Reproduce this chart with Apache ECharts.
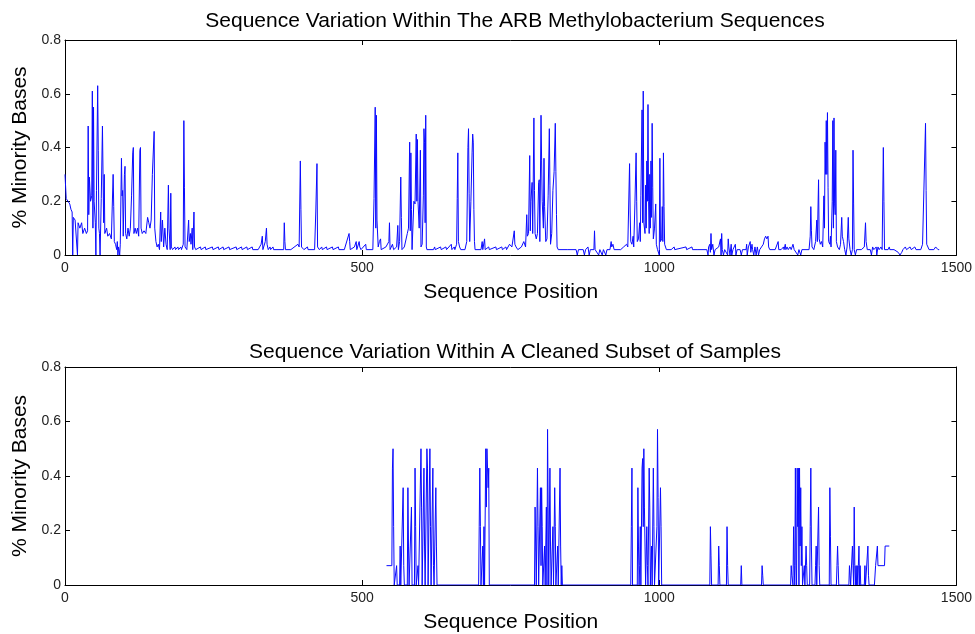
<!DOCTYPE html>
<html>
<head>
<meta charset="utf-8">
<script src="https://cdn.jsdelivr.net/npm/echarts@6/dist/echarts.min.js"></script>
<style>
html,body{margin:0;padding:0;background:#fff;}
#chart{width:975px;height:634px;}
</style>
</head>
<body>
<div id="chart"></div>
<script>
// ---- Data ----
var titles = ["Sequence Variation Within The ARB Methylobacterium Sequences", "Sequence Variation Within A Cleaned Subset of Samples"];
var xTicks = [0, 500, 1000, 1500];
var yTicks = [0, 0.2, 0.4, 0.6, 0.8];

var topPos = [0,2,5,8,10,12,13,14,17,20,21,22,25,28,30,33,36,38,39,40,41,43,45,46,47,48,49,51,52,53,55,56,57,58,59,61,63,64,65,66,67,70,72,75,78,80,81,82,83,85,87,88,89,90,92,93,95,96,97,98,100,101,102,104,106,108,110,112,114,115,116,118,120,122,124,126,127,128,130,133,136,139,141,143,145,147,150,151,153,155,157,159,161,162,164,166,168,170,172,174,175,177,178,179,181,185,186,190,191,195,196,199,200,201,202,205,208,209,211,212,214,215,217,218,220,228,229,236,237,248,249,258,259,266,267,276,277,288,289,297,298,306,307,315,316,325,330,332,333,337,339,340,342,345,346,350,351,368,369,370,371,380,392,394,396,397,398,401,402,408,409,420,422,424,425,428,432,433,440,441,450,451,460,461,470,478,479,480,487,490,491,495,496,498,506,507,518,520,522,523,524,525,527,529,531,532,540,545,546,547,551,553,558,560,561,563,565,566,567,571,576,578,580,581,582,583,584,587,589,591,592,593,594,596,598,599,601,603,604,605,606,607,608,609,620,622,623,632,633,641,642,650,651,655,656,659,660,661,662,664,666,673,676,678,679,680,681,683,685,686,687,688,689,690,700,702,703,706,707,713,714,725,726,735,736,742,743,748,752,756,757,759,762,768,772,775,777,778,780,782,783,784,786,787,789,790,791,793,795,797,798,799,801,802,803,805,806,807,809,811,813,815,816,817,819,821,823,825,826,827,828,830,845,860,862,864,872,874,876,880,882,884,890,891,892,898,900,904,906,910,912,917,919,920,922,924,935,940,945,947,950,951,952,954,956,957,959,961,962,963,965,967,968,969,971,972,973,974,976,977,978,979,980,981,982,983,984,985,986,987,988,989,990,992,994,995,997,1000,1001,1002,1004,1005,1006,1007,1008,1009,1011,1012,1020,1025,1026,1045,1046,1055,1056,1065,1080,1082,1083,1085,1086,1087,1088,1090,1092,1094,1100,1103,1104,1105,1106,1108,1110,1115,1116,1117,1119,1121,1122,1124,1128,1129,1131,1136,1138,1140,1146,1147,1148,1150,1153,1154,1156,1157,1159,1161,1163,1165,1167,1169,1172,1175,1177,1179,1181,1183,1184,1186,1195,1200,1201,1205,1209,1210,1212,1213,1215,1217,1220,1222,1225,1227,1230,1233,1235,1238,1240,1252,1254,1255,1256,1257,1260,1263,1265,1266,1268,1269,1271,1273,1275,1277,1278,1279,1280,1281,1282,1283,1284,1285,1287,1288,1289,1291,1292,1293,1294,1295,1296,1297,1298,1300,1303,1305,1307,1308,1310,1312,1314,1316,1318,1319,1321,1323,1325,1326,1327,1328,1330,1332,1340,1345,1347,1348,1350,1355,1357,1359,1361,1365,1366,1368,1370,1373,1375,1377,1378,1379,1385,1387,1388,1395,1402,1405,1408,1410,1414,1416,1422,1424,1430,1432,1440,1443,1446,1448,1449,1450,1452,1454,1462,1465,1467,1469,1471];
var topVal = [0.30,0.21,0.20,0.19,0.17,0.16,0.0,0.14,0.13,0.13,0.0,0.12,0.10,0.12,0.08,0.10,0.08,0.09,0.48,0.15,0.29,0.20,0.22,0.61,0.10,0.55,0.20,0.12,0.0,0.24,0.63,0.39,0.10,0.08,0.0,0.21,0.48,0.30,0.12,0.30,0.08,0.10,0.07,0.08,0.06,0.06,0.30,0.18,0.05,0.04,0.02,0.05,0.0,0.03,0.0,0.04,0.36,0.22,0.24,0.07,0.30,0.33,0.08,0.06,0.10,0.07,0.10,0.22,0.38,0.40,0.08,0.10,0.08,0.10,0.07,0.39,0.40,0.10,0.08,0.09,0.08,0.14,0.12,0.10,0.13,0.30,0.46,0.10,0.05,0.03,0.04,0.02,0.16,0.05,0.13,0.03,0.10,0.04,0.02,0.26,0.10,0.02,0.23,0.03,0.02,0.03,0.02,0.03,0.02,0.03,0.02,0.04,0.50,0.25,0.03,0.02,0.13,0.05,0.08,0.04,0.10,0.02,0.16,0.03,0.02,0.03,0.02,0.03,0.02,0.03,0.02,0.03,0.02,0.03,0.02,0.03,0.02,0.03,0.02,0.03,0.02,0.03,0.02,0.03,0.02,0.02,0.04,0.07,0.02,0.05,0.10,0.04,0.02,0.03,0.02,0.03,0.02,0.02,0.12,0.05,0.02,0.02,0.04,0.03,0.35,0.17,0.03,0.03,0.02,0.03,0.02,0.02,0.16,0.34,0.03,0.02,0.03,0.02,0.03,0.02,0.03,0.02,0.03,0.02,0.02,0.08,0.05,0.02,0.03,0.05,0.02,0.05,0.03,0.02,0.04,0.02,0.02,0.21,0.55,0.10,0.52,0.13,0.03,0.05,0.06,0.02,0.03,0.05,0.12,0.02,0.04,0.02,0.03,0.11,0.02,0.05,0.29,0.14,0.02,0.03,0.08,0.10,0.42,0.09,0.38,0.17,0.02,0.20,0.19,0.45,0.20,0.43,0.20,0.10,0.39,0.03,0.04,0.22,0.47,0.42,0.12,0.52,0.03,0.02,0.02,0.03,0.02,0.03,0.02,0.03,0.02,0.04,0.02,0.03,0.02,0.04,0.21,0.38,0.05,0.03,0.02,0.02,0.05,0.40,0.47,0.23,0.05,0.20,0.38,0.45,0.42,0.17,0.05,0.02,0.02,0.05,0.02,0.06,0.02,0.03,0.02,0.03,0.02,0.03,0.02,0.03,0.02,0.04,0.03,0.09,0.04,0.03,0.02,0.03,0.05,0.03,0.15,0.07,0.08,0.37,0.09,0.20,0.27,0.08,0.51,0.24,0.08,0.06,0.08,0.27,0.28,0.05,0.52,0.35,0.20,0.10,0.36,0.18,0.05,0.06,0.22,0.47,0.26,0.04,0.08,0.24,0.31,0.49,0.31,0.15,0.03,0.02,0.02,0.02,0.0,0.02,0.02,0.0,0.02,0.03,0.0,0.02,0.02,0.09,0.02,0.0,0.02,0.0,0.02,0.0,0.02,0.02,0.05,0.03,0.04,0.02,0.02,0.03,0.04,0.03,0.34,0.16,0.05,0.04,0.07,0.03,0.19,0.38,0.20,0.05,0.06,0.12,0.05,0.22,0.54,0.12,0.61,0.12,0.08,0.26,0.10,0.35,0.20,0.56,0.20,0.08,0.30,0.10,0.35,0.14,0.49,0.25,0.06,0.10,0.19,0.04,0.02,0.0,0.36,0.05,0.06,0.18,0.05,0.38,0.18,0.04,0.04,0.02,0.02,0.03,0.02,0.03,0.02,0.03,0.02,0.02,0.02,0.0,0.03,0.04,0.01,0.08,0.02,0.04,0.0,0.02,0.03,0.06,0.0,0.08,0.02,0.0,0.02,0.0,0.06,0.03,0.0,0.04,0.0,0.02,0.04,0.0,0.02,0.02,0.0,0.02,0.02,0.04,0.0,0.03,0.05,0.01,0.04,0.02,0.0,0.03,0.0,0.03,0.0,0.02,0.03,0.04,0.06,0.07,0.06,0.07,0.03,0.02,0.02,0.05,0.02,0.02,0.03,0.02,0.04,0.02,0.03,0.02,0.03,0.02,0.04,0.02,0.02,0.0,0.02,0.0,0.02,0.02,0.07,0.18,0.09,0.03,0.02,0.05,0.13,0.05,0.28,0.06,0.04,0.05,0.03,0.22,0.10,0.42,0.30,0.50,0.30,0.53,0.25,0.05,0.04,0.07,0.03,0.20,0.50,0.10,0.51,0.19,0.15,0.39,0.05,0.03,0.02,0.04,0.14,0.07,0.05,0.02,0.0,0.03,0.14,0.06,0.02,0.0,0.02,0.39,0.19,0.02,0.0,0.02,0.02,0.03,0.12,0.05,0.02,0.02,0.0,0.03,0.02,0.03,0.0,0.03,0.02,0.03,0.02,0.40,0.20,0.02,0.02,0.03,0.02,0.02,0.01,0.0,0.01,0.02,0.03,0.02,0.03,0.02,0.03,0.02,0.02,0.04,0.04,0.49,0.24,0.04,0.04,0.02,0.02,0.03,0.03,0.02,0.02];

var botPos = [541,550,551,552,553,554,557,558,559,563,564,565,568,569,570,571,576,577,578,579,582,583,584,588,589,590,591,593,594,595,598,599,600,601,603,604,605,606,608,609,610,611,613,614,615,616,618,619,620,621,623,624,625,626,696,697,698,699,700,702,703,704,705,706,707,708,709,710,711,712,713,714,790,791,792,793,794,795,796,797,799,800,801,802,803,804,806,807,808,809,810,811,812,813,814,815,816,817,818,820,821,822,823,824,825,826,828,829,830,832,833,834,835,836,837,952,953,954,955,963,964,965,966,967,968,969,970,971,972,973,974,975,976,977,978,979,980,981,983,984,985,986,987,988,989,990,991,992,995,996,997,998,999,1001,1002,1003,1004,1085,1086,1087,1088,1099,1100,1101,1102,1113,1114,1115,1116,1137,1138,1139,1172,1173,1174,1175,1221,1222,1223,1225,1226,1227,1228,1229,1230,1231,1232,1233,1234,1235,1236,1237,1238,1239,1240,1241,1243,1244,1245,1246,1247,1248,1249,1253,1254,1255,1256,1257,1262,1263,1264,1265,1267,1268,1269,1270,1286,1287,1288,1289,1298,1299,1300,1301,1302,1319,1320,1321,1322,1324,1325,1326,1327,1328,1329,1330,1331,1332,1333,1334,1335,1336,1337,1338,1339,1345,1346,1347,1350,1351,1352,1353,1362,1364,1366,1367,1368,1379,1380,1387];
var botVal = [0.071,0.071,0.429,0.5,0.214,0,0,0.071,0,0,0.143,0,0,0.357,0.071,0,0,0.357,0.143,0,0,0.286,0,0,0.429,0.214,0,0,0.071,0,0,0.5,0.286,0,0,0.429,0.143,0,0,0.5,0.429,0,0,0.5,0.214,0,0,0.429,0.071,0,0,0.357,0.143,0,0,0.214,0.429,0.214,0,0,0.143,0,0.214,0,0,0.5,0.286,0.5,0.429,0.357,0.429,0,0,0.286,0.143,0,0,0.429,0.214,0,0,0.357,0.071,0.357,0.214,0,0,0.143,0,0,0.286,0,0.571,0.286,0,0,0.429,0.143,0,0,0.214,0,0,0.357,0.214,0,0,0.143,0,0,0.429,0.143,0,0.071,0,0,0.214,0.429,0,0,0.357,0.143,0,0.071,0.214,0,0,0.429,0.464,0.214,0.5,0.286,0.143,0,0,0.214,0.071,0,0.429,0.286,0,0,0.143,0,0,0.429,0.214,0,0,0.214,0.571,0.321,0,0,0.357,0.214,0,0,0.214,0.107,0,0,0.143,0.071,0,0,0.214,0.071,0,0,0.071,0,0,0.071,0.036,0,0,0.071,0.036,0,0.214,0.071,0,0.429,0.071,0,0.429,0.214,0.429,0,0.429,0.143,0.357,0.071,0.214,0,0,0.071,0,0,0.143,0.071,0,0,0.214,0.429,0.143,0,0,0.071,0.143,0,0,0.286,0.071,0,0,0.357,0.179,0,0,0.071,0.143,0.071,0,0,0.071,0.036,0,0,0.143,0.071,0,0.286,0.071,0,0.071,0,0.071,0,0.071,0.143,0,0.071,0,0,0.071,0,0,0.143,0.036,0,0,0.071,0.071,0.143,0.071,0.071,0.143,0.143];

// ---- Build ----
function pairs(xs, ys){ var out=[]; for(var i=0;i<xs.length;i++){ out.push([xs[i], ys[i]]); } return out; }

var FONT = 'Liberation Sans, Arial, Helvetica, sans-serif';
var TICKFONT = 'Liberation Sans, Arial, sans-serif';
var grids = [
  {left:65, right:17, top:40, height:215},
  {left:65, right:17, top:367, height:218}
];
var xAxes = [], yAxes = [];
for (var g=0; g<2; g++){
  xAxes.push({type:'value', gridIndex:g, position:'bottom', min:0, max:1500, interval:500,
    axisLine:{show:true, onZero:false, lineStyle:{color:'#000', width:1}},
    axisTick:{show:true, inside:true, length:5, lineStyle:{color:'#000'}},
    axisLabel:{show:true, color:'#222', fontFamily:TICKFONT, fontSize:14, margin:6,
      formatter:function(v){ return String(v); }},
    splitLine:{show:false},
    name:'Sequence Position', nameLocation:'middle', nameGap:27,
    nameTextStyle:{color:'#000', fontFamily:FONT, fontSize:21}});
  xAxes.push({type:'value', gridIndex:g, position:'top', min:0, max:1500, interval:500,
    axisLine:{show:true, onZero:false, lineStyle:{color:'#000', width:1}},
    axisTick:{show:true, inside:true, length:5, lineStyle:{color:'#000'}},
    axisLabel:{show:false}, splitLine:{show:false}});
  yAxes.push({type:'value', gridIndex:g, position:'left', min:0, max:0.8, interval:0.2,
    axisLine:{show:true, onZero:false, lineStyle:{color:'#000', width:1}},
    axisTick:{show:true, inside:true, length:5, lineStyle:{color:'#000'}},
    axisLabel:{show:true, color:'#222', fontFamily:TICKFONT, fontSize:14, margin:4,
      formatter:function(v){ return v===0 ? '0' : v.toFixed(1); }},
    splitLine:{show:false},
    name:'% Minority Bases', nameLocation:'middle', nameGap:27, nameRotate:90,
    nameTextStyle:{color:'#000', fontFamily:FONT, fontSize:21}});
  yAxes.push({type:'value', gridIndex:g, position:'right', min:0, max:0.8, interval:0.2,
    axisLine:{show:true, onZero:false, lineStyle:{color:'#000', width:1}},
    axisTick:{show:true, inside:true, length:5, lineStyle:{color:'#000'}},
    axisLabel:{show:false}, splitLine:{show:false}});
}

var chart = echarts.init(document.getElementById('chart'), null, {renderer:'canvas'});
chart.setOption({
  animation:false,
  backgroundColor:'#fff',
  title:[
    {text:titles[0], left:510, top:6, textAlign:'center', textStyle:{fontFamily:FONT, fontSize:21, fontWeight:'normal', color:'#000'}},
    {text:titles[1], left:510, top:337, textAlign:'center', textStyle:{fontFamily:FONT, fontSize:21, fontWeight:'normal', color:'#000'}}
  ],
  grid:grids,
  xAxis:xAxes,
  yAxis:yAxes,
  series:[
    {type:'line', xAxisIndex:0, yAxisIndex:0, data:pairs(topPos, topVal), showSymbol:false, symbol:'none',
      lineStyle:{color:'#0a0aff', width:1}, clip:true},
    {type:'line', xAxisIndex:2, yAxisIndex:2, data:pairs(botPos, botVal), showSymbol:false, symbol:'none',
      lineStyle:{color:'#0a0aff', width:1}, clip:true}
  ]
});
</script>
</body>
</html>
